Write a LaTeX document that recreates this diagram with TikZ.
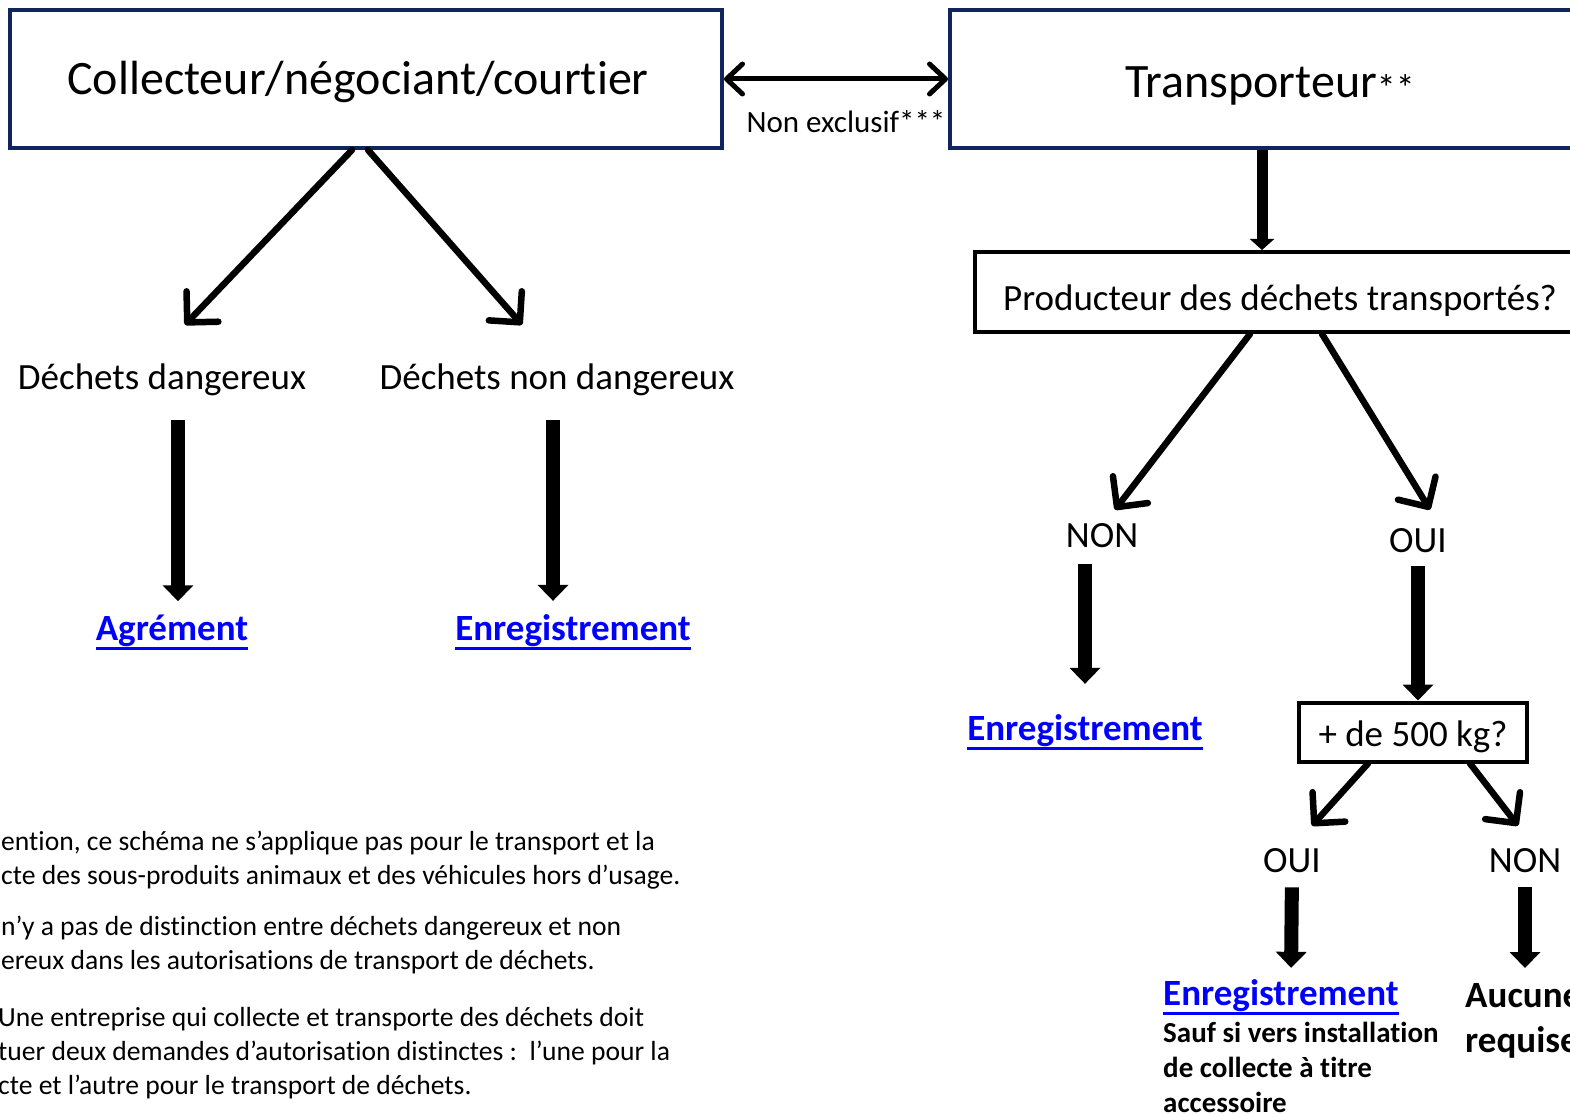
\documentclass[tikz,border=0pt]{standalone}
\usepackage{fontspec}
\setmainfont{Carlito}[Ligatures={TeX,NoCommon}]
\usetikzlibrary{arrows.meta}
\definecolor{boxnavy}{RGB}{16,36,94}
\definecolor{linkblue}{RGB}{0,0,255}
\newcommand{\lien}[1]{\textcolor{linkblue}{\vtop{\hbox{\textbf{#1}}\kern1pt\hrule height 2.6pt}}}
\begin{document}
\begin{tikzpicture}[x=1pt,y=-1pt,
  titlebox/.style={draw=boxnavy,line width=4pt,font=\fontsize{48}{57}\selectfont},
  askbox/.style={draw=black,line width=4pt,font=\fontsize{37}{44}\selectfont},
  lbl/.style={font=\fontsize{37}{44}\selectfont},
  chev/.style={line width=6.5pt,line cap=round,-{Straight Barb[length=22pt,width=44pt,round]}},
  fat/.style={line width=14pt,-{Triangle[length=16pt,width=30pt]}},
  note/.style={anchor=north west,align=left,font=\fontsize{27.6}{34}\selectfont}]
\tikzstyle{every node}+=[inner sep=0pt]
\useasboundingbox (0,0) rectangle (1570,1115);
\node[titlebox,minimum width=712,minimum height=138,text height=40,text depth=8] (coll) at (366,79) {Collecteur/négociant/courtier\hspace*{16pt}};
\node[titlebox,minimum width=640,minimum height=138,text height=45,text depth=7] (trans) at (1270,79) {Transporteur{\fontsize{38}{44}\selectfont\raisebox{-4pt}{**}}};
\node[font=\fontsize{31}{37}\selectfont] (excl) at (846,122) {Non exclusif***};
\draw[line width=5pt,{Straight Barb[length=16pt,width=30pt,round]}-{Straight Barb[length=16pt,width=30pt,round]}] (coll.east) -- (trans.west);
\node[lbl] (dd) at (162,380) {Déchets dangereux};
\node[lbl] (dnd) at (557,380) {Déchets non dangereux};
\node[lbl,anchor=base] (agr) at (172,640) {\lien{Agrément}};
\node[lbl,anchor=base] (enra) at (573,640) {\lien{Enregistrement}};
\draw[chev] ([xshift=-14]coll.south) -- ([xshift=23,yshift=39]dd.north);
\draw[chev] ([xshift=2]coll.south) -- ([xshift=-35,yshift=39]dnd.north);
\draw[fat,shorten <=24pt,shorten >=13pt] ([xshift=16]dd.south) -- ([xshift=6]agr.north);
\draw[fat,shorten <=24pt,shorten >=13pt] ([xshift=-4]dnd.south) -- ([xshift=-20]enra.north);
\node[askbox,minimum width=610,minimum height=80,text height=42,text depth=6] (prod) at (1280,292) {Producteur des déchets transportés?};
\draw[line width=11pt,-{Triangle[length=11pt,width=24pt]}] ([xshift=-8]trans.south) -- ([xshift=-18]prod.north);
\node[lbl] (nona) at (1102,536) {NON};
\node[lbl] (ouia) at (1418,541) {OUI};
\draw[chev] ([xshift=-30]prod.south) -- ([xshift=13,yshift=14]nona.north);
\draw[chev] ([xshift=42]prod.south) -- ([xshift=12,yshift=19]ouia.north);
\node[lbl,anchor=base] (enrb) at (1085,740) {\lien{Enregistrement}};
\draw[fat,shorten <=16pt,shorten >=30pt] ([xshift=-17]nona.south) -- (enrb.north);
\node[askbox,minimum width=228,minimum height=59,text height=34,text depth=6] (kg) at (1413,732) {+ de 500 kg?};
\draw[fat,shorten <=13pt] (ouia.south) -- ([xshift=5]kg.north);
\node[lbl] (ouib) at (1292,861) {OUI};
\node[lbl] (nonb) at (1525,861) {NON};
\draw[chev] ([xshift=-45]kg.south) -- ([xshift=20,yshift=23]ouib.north);
\draw[chev] ([xshift=57]kg.south) -- ([xshift=-7,yshift=23]nonb.north);
\node[lbl,anchor=base west] (enrc) at (1163,1005) {\lien{Enregistrement}};
\node[anchor=north west,align=left,font=\bfseries\fontsize{37}{45}\selectfont] (auc) at (1465,983) {Aucune\\requise};
\draw[fat,shorten <=14pt,shorten >=11pt] (ouib.south) -- ([xshift=10]enrc.north);
\draw[fat,shorten <=14pt,shorten >=15pt] (nonb.south) -- ([xshift=60]auc.north west);
\node[anchor=north west,align=left,font=\bfseries\fontsize{29}{35}\selectfont] (sauf) at (1163,1022) {Sauf si vers installation\\de collecte à titre\\accessoire};
\node[note] (nota) at (1,831) {ention, ce schéma ne s’applique pas pour le transport et la\\cte des sous-produits animaux et des véhicules hors d’usage.};
\node[note] (notb) at (1,916) {n’y a pas de distinction entre déchets dangereux et non\\ereux dans les autorisations de transport de déchets.};
\node[note] (notc) at (-2,1007) {Une entreprise qui collecte et transporte des déchets doit\\tuer deux demandes d’autorisation distinctes :\ \ l’une pour la\\cte et l’autre pour le transport de déchets.};
\end{tikzpicture}
\end{document}
